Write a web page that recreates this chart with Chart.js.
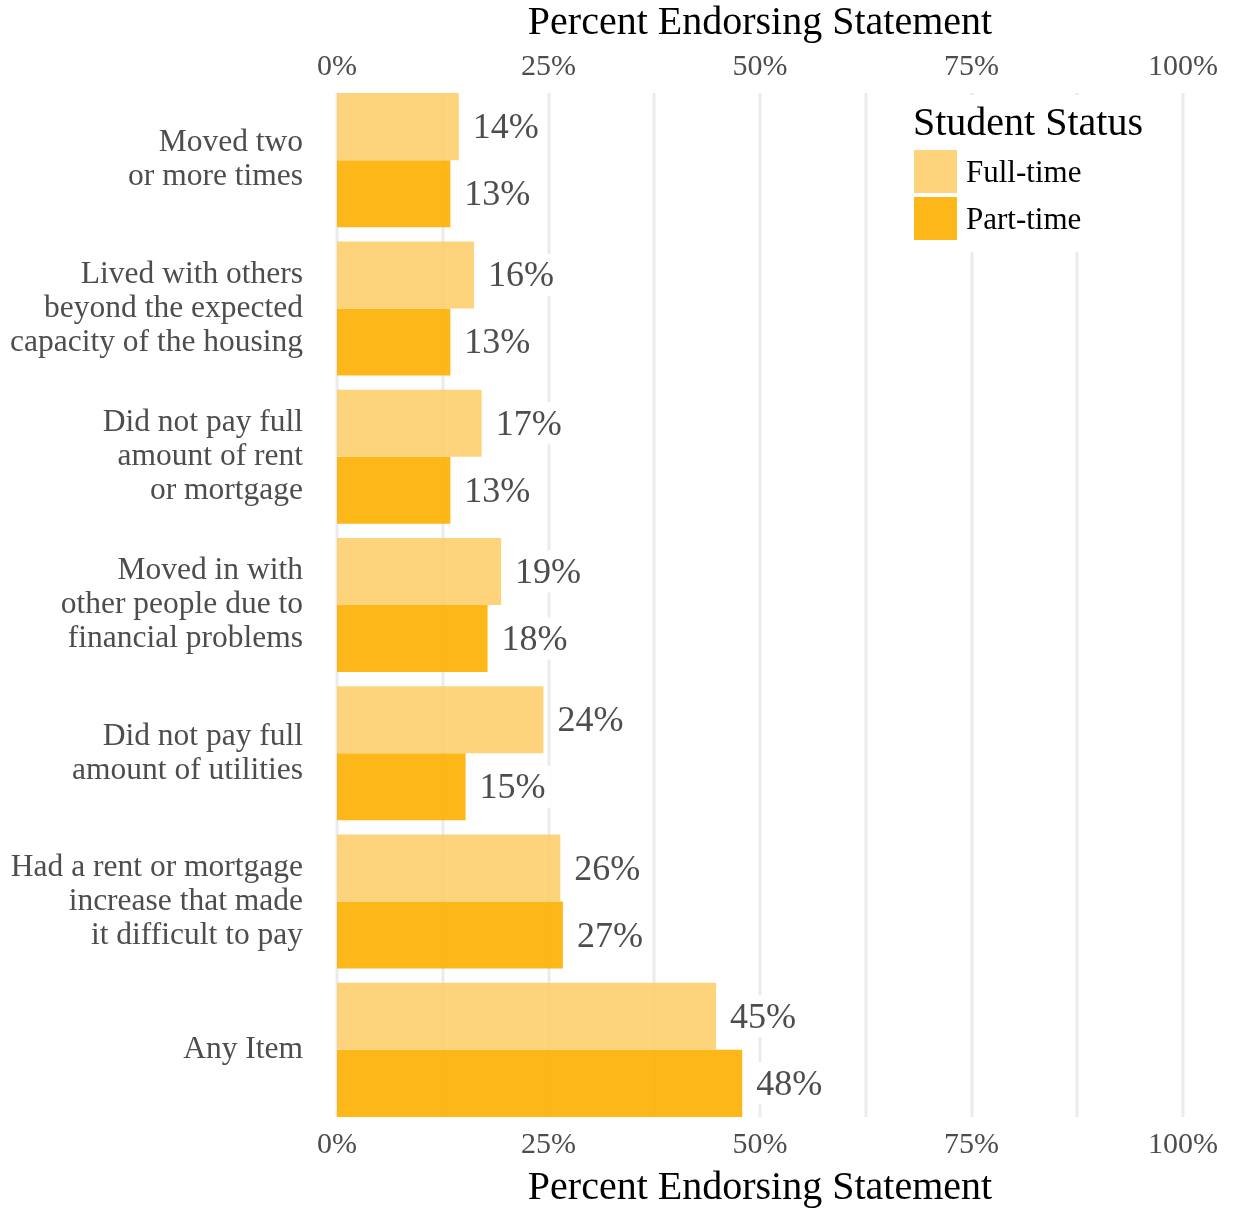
<!DOCTYPE html>
<html>
<head>
<meta charset="utf-8">
<script src="https://cdn.jsdelivr.net/npm/chart.js@4/dist/chart.umd.min.js"></script>
<style>
  html, body { margin: 0; padding: 0; background: #fff; }
  #wrap { width: 1234px; height: 1211px; }
</style>
</head>
<body>
<div id="wrap"><canvas id="barChart" width="1234" height="1211"></canvas></div>
<script>
// data
const categories = [
  ["Moved two", "or more times"],
  ["Lived with others", "beyond the expected", "capacity of the housing"],
  ["Did not pay full", "amount of rent", "or mortgage"],
  ["Moved in with", "other people due to", "financial problems"],
  ["Did not pay full", "amount of utilities"],
  ["Had a rent or mortgage", "increase that made", "it difficult to pay"],
  ["Any Item"]
];
const fullTime = [14.4, 16.2, 17.1, 19.4, 24.4, 26.4, 44.8];
const partTime = [13.4, 13.4, 13.4, 17.8, 15.2, 26.7, 47.9];
const seriesNames = ["Full-time", "Part-time"];
const xTicks = [0, 25, 50, 75, 100];

const SERIF = "'Liberation Serif', 'Times New Roman', serif";
const GREY = "#4d4d4d";

// grid lines drawn only over the span of the bars
const gridLines = {
  id: 'gridLines',
  beforeDatasetsDraw(chart) {
    const ctx = chart.ctx, x = chart.scales.x;
    const first = chart.getDatasetMeta(0).data[0];
    const last = chart.getDatasetMeta(1).data[categories.length - 1];
    const top = first.y - first.height / 2;
    const bottom = last.y + last.height / 2;
    ctx.save();
    ctx.strokeStyle = '#ebebeb';
    ctx.lineWidth = 3;
    for (let v = 0; v <= 100; v += 12.5) {
      const px = Math.round(x.getPixelForValue(v));
      ctx.beginPath();
      ctx.moveTo(px, top);
      ctx.lineTo(px, bottom);
      ctx.stroke();
    }
    ctx.restore();
  }
};

// percent labels with white background at the end of each bar
const barLabels = {
  id: 'barLabels',
  afterDatasetsDraw(chart) {
    const ctx = chart.ctx;
    ctx.save();
    ctx.font = "36px " + SERIF;
    ctx.textBaseline = 'middle';
    ctx.textAlign = 'left';
    chart.data.datasets.forEach((ds, i) => {
      chart.getDatasetMeta(i).data.forEach((bar, j) => {
        const txt = Math.round(ds.data[j]) + '%';
        const tx = bar.x + 14;
        const w = ctx.measureText(txt).width;
        ctx.fillStyle = '#fff';
        ctx.fillRect(tx - 6, bar.y - 21, w + 11, 42);
        ctx.fillStyle = GREY;
        ctx.fillText(txt, tx, bar.y + 2);
      });
    });
    ctx.restore();
  }
};

// legend inside the plot, top right
const insideLegend = {
  id: 'insideLegend',
  afterDraw(chart) {
    const ctx = chart.ctx;
    ctx.save();
    ctx.fillStyle = '#fff';
    ctx.fillRect(903, 95, 250, 157);
    ctx.fillStyle = '#000';
    ctx.textBaseline = 'alphabetic';
    ctx.textAlign = 'left';
    ctx.font = "40px " + SERIF;
    ctx.fillText("Student Status", 913, 135);
    ctx.font = "31px " + SERIF;
    chart.data.datasets.forEach((ds, i) => {
      const y = 150 + i * 47;
      ctx.fillStyle = ds.backgroundColor;
      ctx.fillRect(914, y, 43, 43);
      ctx.fillStyle = '#000';
      ctx.fillText(ds.label, 966, y + 32);
    });
    ctx.restore();
  }
};

const tickCfg = (pad) => ({
  min: 0,
  max: 100,
  stepSize: 12.5,
  autoSkip: false,
  maxRotation: 0,
  padding: pad,
  color: GREY,
  font: { family: SERIF, size: 30 },
  callback: (v) => xTicks.includes(v) ? v + '%' : ''
});

const ctxB = document.getElementById("barChart").getContext('2d');
const myBarChart = new Chart(ctxB, {
  type: 'bar',
  data: {
    labels: categories,
    datasets: [{
      label: seriesNames[0],
      data: fullTime,
      backgroundColor: 'rgba(253, 207, 110, 0.9)',
      barPercentage: 1,
      categoryPercentage: 0.904
    }, {
      label: seriesNames[1],
      data: partTime,
      backgroundColor: 'rgba(253, 179, 12, 0.95)',
      barPercentage: 1,
      categoryPercentage: 0.904
    }]
  },
  options: {
    indexAxis: 'y',
    responsive: false,
    animation: false,
    layout: { padding: { left: 0, right: 51, top: 0, bottom: 0 } },
    plugins: {
      legend: { display: false },
      tooltip: { enabled: false }
    },
    scales: {
      x: {
        position: 'bottom',
        min: 0,
        max: 100,
        border: { display: false },
        grid: { display: false, drawTicks: false },
        ticks: tickCfg(3),
        title: {
          display: true,
          text: 'Percent Endorsing Statement',
          color: '#000',
          font: { family: SERIF, size: 40, lineHeight: 1 },
          padding: { top: 0, bottom: 3 }
        },
        afterFit(scale) { scale.height = 87; }
      },
      x2: {
        type: 'linear',
        position: 'top',
        min: 0,
        max: 100,
        border: { display: false },
        grid: { display: false, drawTicks: false },
        ticks: tickCfg(1),
        title: {
          display: true,
          text: 'Percent Endorsing Statement',
          color: '#000',
          font: { family: SERIF, size: 40, lineHeight: 1 },
          padding: { top: 3, bottom: 0 }
        },
        afterFit(scale) { scale.height = 86; }
      },
      y: {
        border: { display: false },
        grid: { display: false, drawTicks: false },
        ticks: {
          padding: 34,
          color: GREY,
          font: { family: SERIF, size: 31.5, lineHeight: 1.08 }
        },
        afterFit(scale) { scale.width = 337; }
      }
    }
  },
  plugins: [gridLines, barLabels, insideLegend]
});
</script>
</body>
</html>
